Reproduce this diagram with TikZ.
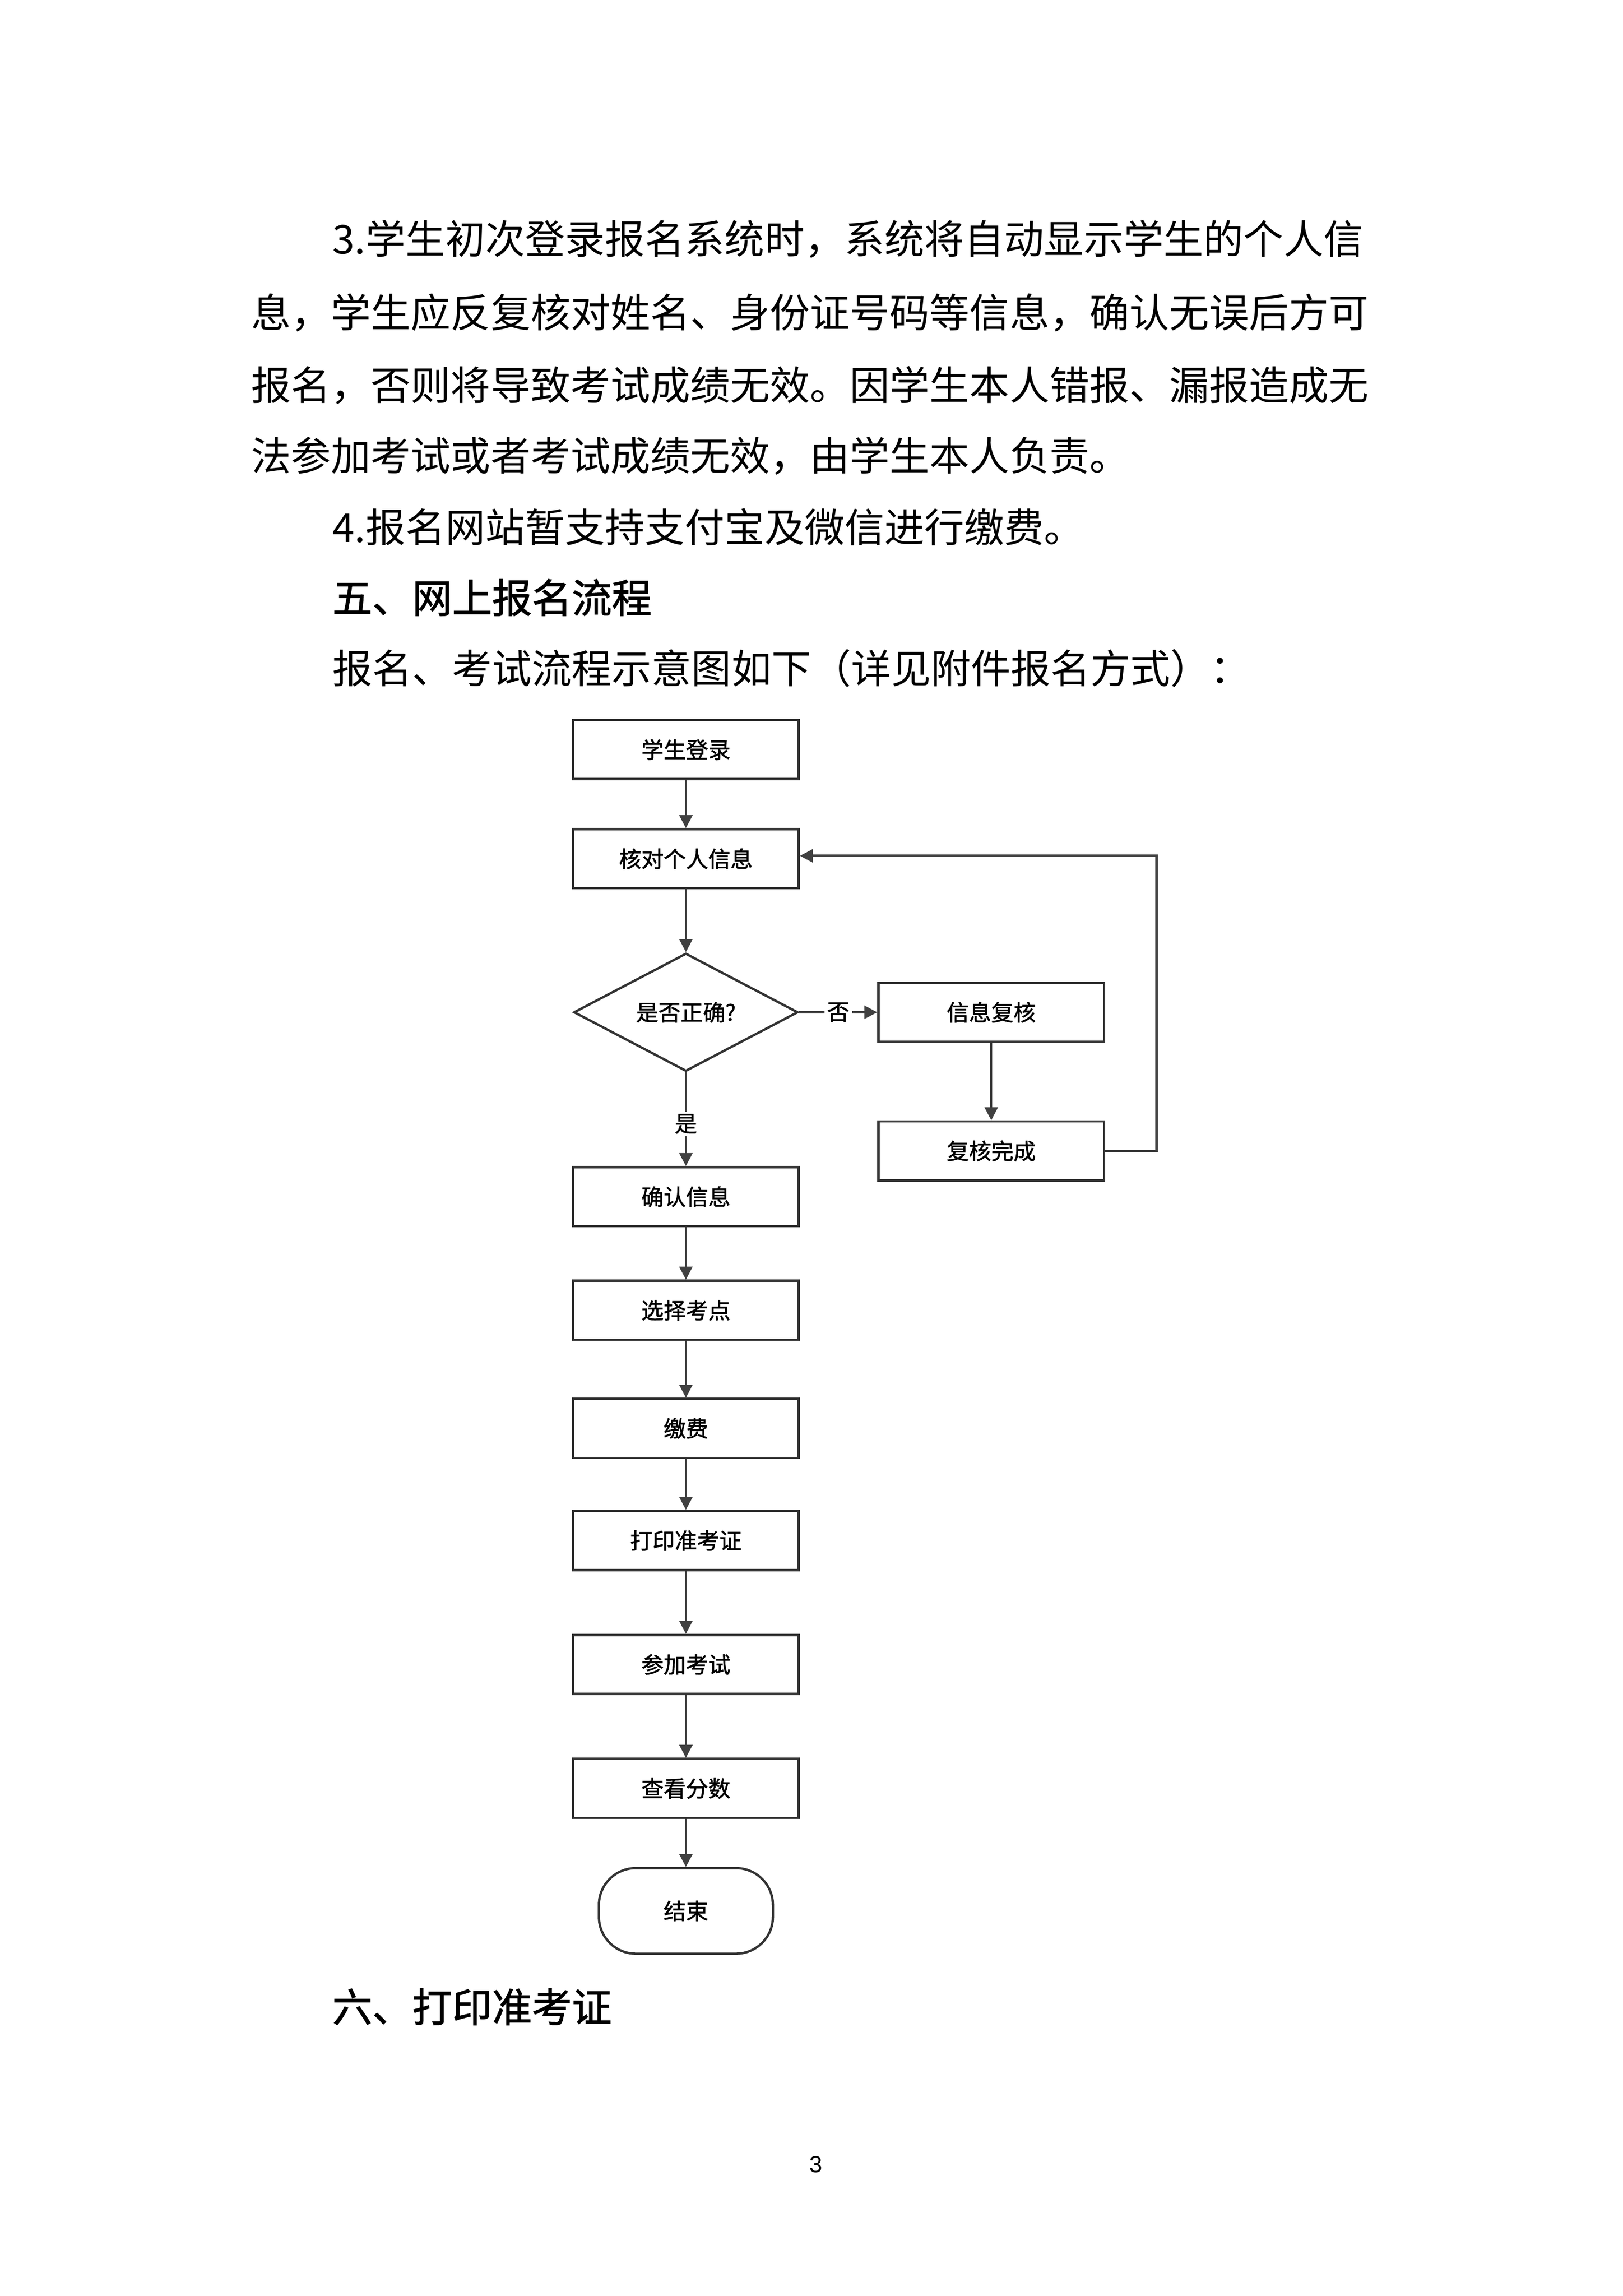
\documentclass[tikz,border=0pt]{standalone}
\usepackage{fontspec}
\setmainfont{Liberation Sans}
\newfontfamily\cjk{Noto Sans CJK SC}
\newfontfamily\cjkb{Noto Sans CJK SC}[FakeBold=1.5]
\usetikzlibrary{shapes.geometric,arrows.meta}
\begin{document}
\begin{tikzpicture}[x=0.02cm,y=-0.02cm,
  body/.style={anchor=west,inner sep=0,font=\cjk\fontsize{15.4pt}{15.4pt}\selectfont},
  box/.style={draw=black!80,line width=0.9pt,minimum width=3.06cm,minimum height=0.8cm,inner sep=0,
    font=\cjkb\fontsize{8.6pt}{9pt}\selectfont, drop shadow/.style={}},
  arr/.style={draw=black!75,line width=0.9pt,-{Triangle[length=5pt,width=5pt]}},
  lbl/.style={fill=white,inner sep=1pt,font=\cjkb\fontsize{8.6pt}{9pt}\selectfont}]
\useasboundingbox (0,0) rectangle (1100,1556);
\fill[white] (0,0) rectangle (1100,1556);
\node[body] (l1) at (225,162) {3.学生初次登录报名系统时，系统将自动显示学生的个人信};
\node[body] (l2) at (170,212) {息，学生应反复核对姓名、身份证号码等信息，确认无误后方可};
\node[body] (l3) at (170,261) {报名，否则将导致考试成绩无效。因学生本人错报、漏报造成无};
\node[body] (l4) at (170,309) {法参加考试或者考试成绩无效，由学生本人负责。};
\node[body] (l5) at (225,357) {4.报名网站暂支持支付宝及微信进行缴费。};
\node[body,font=\cjkb\fontsize{15.4pt}{15.4pt}\selectfont] (h5) at (225,405) {五、网上报名流程};
\node[body] (l6) at (225,453) {报名、考试流程示意图如下（详见附件报名方式）：};

\node[box] (a) at (465,508) {学生登录};
\node[box] (b) at (465,582) {核对个人信息};
\node[diamond,aspect=1.9,draw=black!80,line width=0.9pt,minimum width=3.04cm,minimum height=1.6cm,inner sep=0,font=\cjkb\fontsize{8.6pt}{9pt}\selectfont] (c) at (465,686) {是否正确?};
\node[box] (r1) at (672,686) {信息复核};
\node[box] (r2) at (672,780) {复核完成};
\node[box] (d) at (465,811) {确认信息};
\node[box] (e) at (465,888) {选择考点};
\node[box] (f) at (465,968) {缴费};
\node[box] (g) at (465,1044) {打印准考证};
\node[box] (h) at (465,1128) {参加考试};
\node[box] (i) at (465,1212) {查看分数};
\node[box,rounded corners=0.5cm,minimum width=2.36cm,minimum height=1.16cm] (j) at (465,1295) {结束};

\draw[arr] (a) -- (b);
\draw[arr] (b) -- (c);
\draw[arr] (c) -- node[lbl]{否} (r1);
\draw[arr] (c) -- node[lbl,pos=0.55]{是} (d);
\draw[arr] (r1) -- (r2);
\coordinate (k1) at (784,780);
\coordinate (k2) at (784,580);
\draw[arr] (r2.east) -- (k1) -- (k2) -- (b.east|-k2);
\draw[arr] (d) -- (e);
\draw[arr] (e) -- (f);
\draw[arr] (f) -- (g);
\draw[arr] (g) -- (h);
\draw[arr] (h) -- (i);
\draw[arr] (i) -- (j);

\node[body,font=\cjkb\fontsize{15.4pt}{15.4pt}\selectfont] (h6) at (225,1360) {六、打印准考证};
\node[inner sep=0,font=\fontsize{9pt}{9pt}\selectfont] (pn) at (553,1467) {3};
\end{tikzpicture}
\end{document}
